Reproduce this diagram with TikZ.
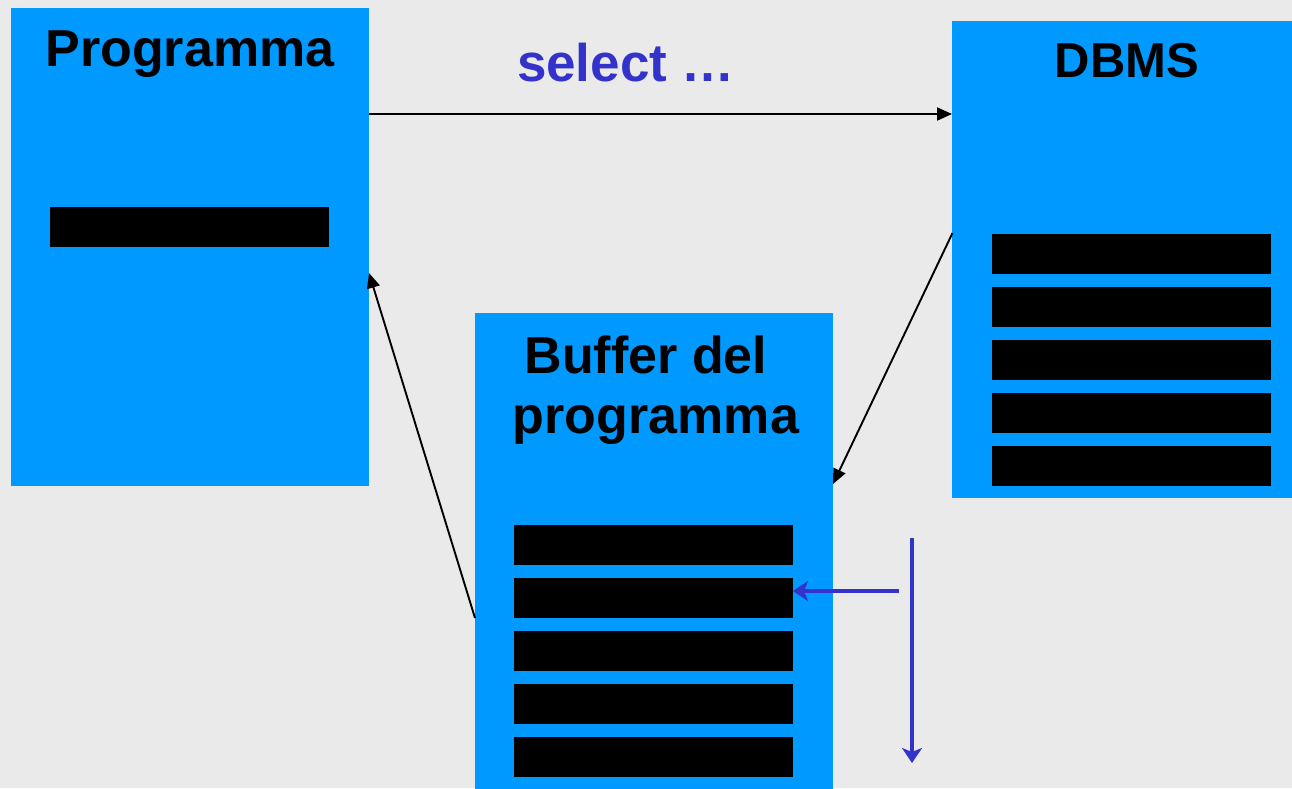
\documentclass[tikz,border=0pt]{standalone}
\usepackage{fontspec}
\setmainfont{Liberation Sans}
\usetikzlibrary{arrows.meta}
\definecolor{bg}{HTML}{EAEAEA}
\definecolor{boxblue}{HTML}{0099FF}
\definecolor{selblue}{HTML}{3333CC}
\tikzset{
  panel/.style={fill=boxblue, draw=none, inner sep=0pt, outer sep=0pt},
  bar/.style={fill=black, draw=none, inner sep=0pt, outer sep=0pt, minimum width=279pt, minimum height=40pt},
  title/.style={font=\fontsize{52}{60}\selectfont\bfseries, text=black, anchor=base, inner sep=0pt},
  conn/.style={line width=1.9pt, -{Triangle[length=15pt,width=13pt]}},
  blueconn/.style={selblue, line width=3.5pt, -{Stealth[length=15pt,width=20pt,inset=4pt]}},
}
\begin{document}
\begin{tikzpicture}[x=1pt,y=-1pt]
\useasboundingbox (0,0) rectangle (1292,788);
\fill[bg] (0,0) rectangle (1292,788);
% panels
\node[panel, minimum width=358pt, minimum height=478pt] (prog) at (190,247) {};
\node[panel, minimum width=340pt, minimum height=477pt] (dbms) at (1122,259.5) {};
\node[panel, minimum width=358pt, minimum height=476pt] (buf) at (654,551) {};
% bars
\node[bar] (pbar) at (189.5,227) {};
\foreach \i in {0,...,4}{
  \node[bar] (dbar\i) at (1131.5,254+53*\i) {};
  \node[bar] (bbar\i) at (653.5,545+53*\i) {};
}
% titles
\node[title] (progt) at (190,66) {Programma};
\node[title, font=\fontsize{49}{60}\selectfont\bfseries] (dbmst) at (1127,77) {DBMS};
\node[title] (buft1) at (646,373) {Buffer del};
\node[title] (buft2) at (656,433) {programma};
\node[title, text=selblue, font=\fontsize{53}{60}\selectfont\bfseries] (sel) at (626,81) {select \dots};
% connector end points
\coordinate (a1) at (369,114);
\coordinate (a2) at (952,114);
\coordinate (b1) at (952.5,233);
\coordinate (b2) at (833,484);
\coordinate (c1) at (475,618);
\coordinate (c2) at (369,273);
\coordinate (h1) at (899,591);
\coordinate (v1) at (912,538);
\coordinate (v2) at (912,763);
\draw[conn] (a1) -- (a2);
\draw[conn] (b1) -- (b2);
\draw[conn] (c1) -- (c2);
\draw[blueconn] (h1) -- (bbar1.east |- h1);
\draw[blueconn] (v1) -- (v2);
\end{tikzpicture}
\end{document}
